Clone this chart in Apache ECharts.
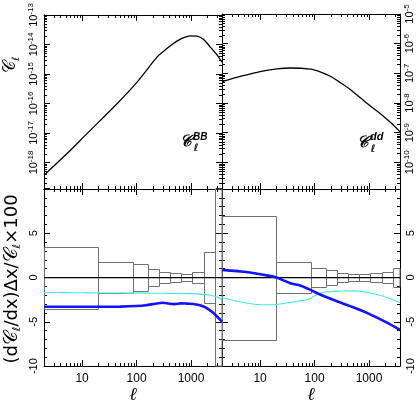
<!DOCTYPE html>
<html><head><meta charset="utf-8">
<script src="https://cdn.jsdelivr.net/npm/echarts@6/dist/echarts.min.js"></script>
<style>html,body{margin:0;padding:0;background:#fff}#c{width:416px;height:405px}</style>
</head><body><div id="c"></div>
<script>
// ---------- data ----------
const ellMin = 2, ellMax = 3700;
const xTickLabels = ['10', '100', '1000'];
const bbEll = [2, 5.3, 12.3, 43.8, 102, 237, 315, 417, 553, 732, 971, 1287, 1705, 2260, 2996, 3700];
const bbCl  = [3.7e-19, 2.0e-18, 9.5e-18, 9.8e-17, 5.3e-16, 3.7e-15, 5.9e-15, 9.0e-15, 1.29e-14, 1.71e-14, 1.95e-14, 1.90e-14, 1.47e-14, 8.1e-15, 4.4e-15, 2.5e-15];
const ddEll = [2, 4.9, 10, 20.4, 36, 84, 130, 198, 300, 464, 700, 1089, 1700, 2550, 3700];
const ddCl  = [5.2e-8, 8.3e-8, 1.15e-7, 1.41e-7, 1.51e-7, 1.38e-7, 1.1e-7, 7.8e-8, 4.8e-8, 2.75e-8, 1.48e-8, 7.6e-9, 4.0e-9, 2.1e-9, 1.07e-9];
const bbExpTicks = [-18, -17, -16, -15, -14, -13];
const ddExpTicks = [-10, -9, -8, -7, -6, -5];

const binEdges = [2, 20, 86, 160, 255, 405, 660, 1045, 1700, 2800, 3700];
const errBB = [3.5, 1.7, 1.55, 0.97, 0.67, 0.53, 0.42, 0.66, 2.85, 20];
const errDD = [7.0, 1.7, 1.05, 0.8, 0.47, 0.37, 0.37, 0.47, 0.62, 1.07];

const cyanBBEll = [2, 5, 10, 20, 50, 100, 200, 400, 700, 1000, 1500, 2000, 2500, 3000, 3700];
const cyanBB    = [-1.68, -1.7, -1.72, -1.74, -1.75, -1.76, -1.77, -1.79, -1.8, -1.82, -1.87, -1.95, -2.05, -2.2, -2.5];
const blueBBEll = [2, 10, 50, 100, 150, 220, 300, 400, 500, 650, 850, 1100, 1400, 1800, 2400, 3000, 3700];
const blueBB    = [-3.3, -3.3, -3.28, -3.22, -3.12, -2.95, -2.85, -2.95, -3.0, -2.92, -2.95, -2.98, -3.1, -3.35, -3.85, -4.4, -5.0];
const cyanDDEll = [2, 4, 9, 15, 20, 36, 51, 73, 85, 100, 129, 170, 300, 500, 800, 1450, 2500, 3700];
const cyanDD    = [-2.25, -2.7, -3.05, -3.08, -3.05, -2.8, -2.65, -2.5, -2.35, -2.05, -1.78, -1.6, -1.52, -1.5, -1.6, -1.95, -2.4, -2.85];
const blueDDEll = [2, 6, 14, 20, 36, 51, 84, 129, 263, 617, 1000, 2000, 3700];
const blueDD    = [0.87, 0.6, 0.22, 0.0, -0.64, -0.85, -1.39, -1.95, -2.7, -3.56, -4.1, -5.0, -5.9];
const devTicks = [-10, -5, 0, 5];

// ---------- helpers ----------
const FONT = '"Liberation Sans", "DejaVu Sans", sans-serif';
const pairs = (xs, ys) => xs.map((x, i) => [x, ys[i]]);
const isPow10 = v => Math.abs(Math.log10(v) - Math.round(Math.log10(v))) < 1e-6;
const mult = [2, 3, 4, 5, 6, 7, 8, 9];
function minorLog(expLo, expHi, lo, hi) {
  const out = [];
  for (let e = expLo; e <= expHi; e++) mult.forEach(m => { const v = m * Math.pow(10, e); if (v > lo * 1.0001 && v < hi * 0.9999) out.push(v); });
  return out;
}
const xMinor = minorLog(0, 3, ellMin, ellMax);
const bbMin = Math.pow(10, -18.9), bbMax = 1e-13;
const ddMin = Math.pow(10, -10.9), ddMax = 1e-5;

const grids = [
  { left: 44, top: 14, width: 178, height: 175 },
  { left: 222, top: 14, width: 178, height: 175 },
  { left: 44, top: 189, width: 178, height: 178 },
  { left: 222, top: 189, width: 178, height: 178 }
];

const lineAx = () => ({ show: true, onZero: false, lineStyle: { color: '#000', width: 1 } });
const tickAx = () => ({ show: true, inside: true, length: 6, lineStyle: { color: '#000', width: 1 } });

const xAxes = [], yAxes = [];
grids.forEach((g, gi) => {
  const bottomPanel = gi >= 2;
  const base = () => ({ type: 'log', logBase: 10, min: ellMin, max: ellMax, gridIndex: gi, axisLine: lineAx(), axisTick: tickAx(), splitLine: { show: false } });
  xAxes.push(Object.assign(base(), {
    position: 'bottom',
    axisLabel: { show: bottomPanel, margin: 7, fontSize: 12, fontFamily: FONT, color: '#000',
      formatter: v => { if (!isPow10(v)) return ''; const s = String(Math.round(v)); return xTickLabels.indexOf(s) >= 0 ? s : ''; } },
    name: bottomPanel ? 'ℓ' : '', nameLocation: 'middle', nameGap: 17,
    nameTextStyle: { fontSize: 18, fontStyle: 'italic', fontFamily: '"DejaVu Serif", serif', color: '#000' }
  }));
  xAxes.push(Object.assign(base(), { position: 'top', axisLabel: { show: false } }));

  const labelLeft = (gi === 0 || gi === 2);
  const mk = (pos, show) => {
    if (!bottomPanel) {
      const isBB = gi === 0;
      const exps = isBB ? bbExpTicks : ddExpTicks;
      return { type: 'log', logBase: 10, min: isBB ? bbMin : ddMin, max: isBB ? bbMax : ddMax, gridIndex: gi, position: pos,
        axisLine: lineAx(), axisTick: tickAx(), splitLine: { show: false },
        axisLabel: { show: show, rotate: 90, margin: 3, color: '#000',
          formatter: v => { const e = Math.round(Math.log10(v)); if (!isPow10(v) || exps.indexOf(e) < 0) return ''; return '{b|10}{s|' + e + '}'; },
          rich: { b: { fontSize: 11, fontFamily: FONT, color: '#000', lineHeight: 14 }, s: { fontSize: 8, fontFamily: FONT, color: '#000', verticalAlign: 'top', lineHeight: 9 } } } };
    }
    return { type: 'value', min: -10, max: 10, interval: 5, gridIndex: gi, position: pos,
      axisLine: lineAx(), axisTick: tickAx(), splitLine: { show: false },
      minorTick: { show: true, splitNumber: 5, length: 3, lineStyle: { color: '#000', width: 1 } },
      axisLabel: { show: show, rotate: 90, margin: 5, fontSize: 11, fontFamily: FONT, color: '#000',
        formatter: v => devTicks.indexOf(v) >= 0 ? String(v) : '' } };
  };
  yAxes.push(mk('left', labelLeft));
  yAxes.push(mk('right', !labelLeft));
});

function minorTickSeries(gi, yVals, yRef) {
  const data = [];
  xMinor.forEach(v => data.push([v, yRef, 0]));
  yVals.forEach(v => data.push([ellMin, v, 1]));
  return {
    type: 'custom', xAxisIndex: 2 * gi, yAxisIndex: 2 * gi, silent: true, z: 5, data: data,
    encode: { x: 0, y: 1 },
    renderItem: function (params, api) {
      const cs = params.coordSys;
      const p = api.coord([api.value(0), api.value(1)]);
      const L = 3, st = { stroke: '#000', lineWidth: 1 };
      if (api.value(2) === 0) {
        const x = Math.round(p[0]) + 0.5;
        return { type: 'group', children: [
          { type: 'line', shape: { x1: x, y1: cs.y + cs.height, x2: x, y2: cs.y + cs.height - L }, style: st },
          { type: 'line', shape: { x1: x, y1: cs.y, x2: x, y2: cs.y + L }, style: st }] };
      }
      const y = Math.round(p[1]) + 0.5;
      return { type: 'group', children: [
        { type: 'line', shape: { x1: cs.x, y1: y, x2: cs.x + L, y2: y }, style: st },
        { type: 'line', shape: { x1: cs.x + cs.width, y1: y, x2: cs.x + cs.width - L, y2: y }, style: st }] };
    }
  };
}

function boxSeries(gi, errs) {
  const data = errs.map((h, i) => [binEdges[i], binEdges[i + 1], h]);
  return {
    type: 'custom', xAxisIndex: 2 * gi, yAxisIndex: 2 * gi, silent: true, z: 2, data: data,
    encode: { x: [0, 1], y: 2 },
    renderItem: function (params, api) {
      const cs = params.coordSys;
      const h = api.value(2);
      const p0 = api.coord([api.value(0), h]);
      const p1 = api.coord([api.value(1), -h]);
      const r = echarts.graphic.clipRectByRect(
        { x: Math.round(p0[0]) + 0.5, y: Math.round(p0[1]) + 0.5, width: Math.round(p1[0]) - Math.round(p0[0]), height: Math.round(p1[1]) - Math.round(p0[1]) },
        { x: cs.x, y: cs.y, width: cs.width, height: cs.height });
      if (!r) return;
      return { type: 'rect', shape: r, style: { fill: 'none', stroke: '#707070', lineWidth: 1 } };
    }
  };
}

const lineSer = (gi, d, color, w, z, smooth) => ({
  type: 'line', xAxisIndex: 2 * gi, yAxisIndex: 2 * gi, data: d, showSymbol: false, symbol: 'none',
  smooth: smooth, z: z, silent: true, animation: false, lineStyle: { color: color, width: w }
});

const series = [
  lineSer(0, pairs(bbEll, bbCl), '#000', 1.3, 4, 0.3),
  lineSer(1, pairs(ddEll, ddCl), '#000', 1.3, 4, 0.3),
  boxSeries(2, errBB),
  boxSeries(3, errDD),
  lineSer(2, [[ellMin, 0], [ellMax, 0]], '#000', 1.3, 3, false),
  lineSer(3, [[ellMin, 0], [ellMax, 0]], '#000', 1.3, 3, false),
  lineSer(2, pairs(cyanBBEll, cyanBB), '#3ee6ee', 1.1, 4, 0.3),
  lineSer(3, pairs(cyanDDEll, cyanDD), '#3ee6ee', 1.1, 4, 0.3),
  lineSer(2, pairs(blueBBEll, blueBB), '#1212ff', 2.6, 5, 0.3),
  lineSer(3, pairs(blueDDEll, blueDD), '#1212ff', 2.6, 5, 0.3),
  minorTickSeries(0, minorLog(-19, -14, bbMin, bbMax), bbMax),
  minorTickSeries(1, minorLog(-11, -6, ddMin, ddMax), ddMax),
  minorTickSeries(2, [], 0),
  minorTickSeries(3, [], 0)
];

const SC = '"DejaVu Serif", "DejaVu Sans", serif';
const graphic = [
  { type: 'text', x: 11, y: 65, rotation: Math.PI / 2, silent: true,
    style: { text: '{c|𝒞}{s|ℓ}', align: 'center', verticalAlign: 'middle',
      rich: { c: { fontSize: 17, fontFamily: SC, fill: '#000', lineHeight: 20 }, s: { fontSize: 10, fontFamily: SC, fill: '#000', verticalAlign: 'bottom' } } } },
  { type: 'text', x: 12, y: 279, rotation: Math.PI / 2, silent: true,
    style: { text: '(d{c|𝒞}{s|ℓ}/dx)Δx/{c|𝒞}{s|ℓ}×100', align: 'center', verticalAlign: 'middle', fontSize: 18, fontFamily: '"DejaVu Sans", sans-serif', fill: '#000',
      rich: { c: { fontSize: 19, fontFamily: SC, fill: '#000', lineHeight: 22 }, s: { fontSize: 11, fontFamily: SC, fill: '#000', verticalAlign: 'bottom' } } } },
  // panel labels
  { type: 'text', x: 186, y: 142, silent: true, style: { text: '𝒞', align: 'center', verticalAlign: 'middle', fontSize: 16, fontFamily: SC, fontStyle: 'italic', fontWeight: 'bold', fill: '#000' } },
  { type: 'text', x: 193, y: 137, silent: true, style: { text: 'BB', align: 'left', verticalAlign: 'middle', fontSize: 10, fontFamily: FONT, fontStyle: 'italic', fontWeight: 'bold', fill: '#000' } },
  { type: 'text', x: 196, y: 148, silent: true, style: { text: 'ℓ', align: 'center', verticalAlign: 'middle', fontSize: 10, fontFamily: SC, fontStyle: 'italic', fontWeight: 'bold', fill: '#000' } },
  { type: 'text', x: 363, y: 143, silent: true, style: { text: '𝒞', align: 'center', verticalAlign: 'middle', fontSize: 16, fontFamily: SC, fontStyle: 'italic', fontWeight: 'bold', fill: '#000' } },
  { type: 'text', x: 370, y: 137, silent: true, style: { text: 'dd', align: 'left', verticalAlign: 'middle', fontSize: 11, fontFamily: FONT, fontStyle: 'italic', fontWeight: 'bold', fill: '#000' } },
  { type: 'text', x: 373, y: 149, silent: true, style: { text: 'ℓ', align: 'center', verticalAlign: 'middle', fontSize: 10, fontFamily: SC, fontStyle: 'italic', fontWeight: 'bold', fill: '#000' } }
];

const chart = echarts.init(document.getElementById('c'), null, { renderer: 'canvas' });
chart.setOption({
  animation: false,
  backgroundColor: '#fff',
  grid: grids,
  xAxis: xAxes,
  yAxis: yAxes,
  series: series,
  graphic: graphic
});
</script></body></html>
